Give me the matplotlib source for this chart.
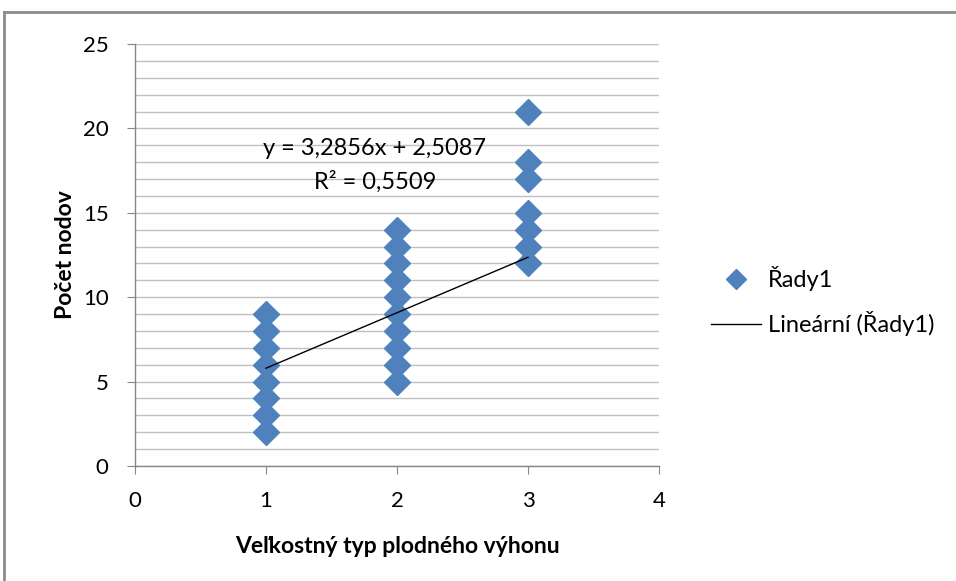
import matplotlib
matplotlib.use("Agg")
import matplotlib.pyplot as plt
from matplotlib.lines import Line2D
import numpy as np

plt.rcParams['font.family'] = ['Lato', 'DejaVu Sans']

# data
x_type1 = [1, 1, 1, 1, 1, 1, 1, 1]
y_type1 = [2, 3, 4, 5, 6, 7, 8, 9]
x_type2 = [2, 2, 2, 2, 2, 2, 2, 2, 2, 2]
y_type2 = [5, 6, 7, 8, 9, 10, 11, 12, 13, 14]
x_type3 = [3, 3, 3, 3, 3, 3, 3]
y_type3 = [12, 13, 14, 15, 17, 18, 21]
slope = 3.2856
intercept = 2.5087
r2 = 0.5509
x_ticks = [0, 1, 2, 3, 4]
y_ticks = [0, 5, 10, 15, 20, 25]
series_name = "Řady1"
trend_name = "Lineární (Řady1)"
x_label = "Veľkostný typ plodného výhonu"
y_label = "Počet nodov"

xs = np.array(x_type1 + x_type2 + x_type3, dtype=float)
ys = np.array(y_type1 + y_type2 + y_type3, dtype=float)

fig = plt.figure(figsize=(9.56, 5.81), dpi=100)
ax = fig.add_axes([135/956, 1-466/581, (659-135)/956, (466-44)/581])

blue = "#4F81BD"
grid_c = "#BFBFBF"
spine_c = "#868686"

ax.set_xlim(0, 4)
ax.set_ylim(0, 25)
ax.set_xticks(x_ticks)
ax.set_yticks(y_ticks)
ax.set_yticks(np.arange(0, 26, 1), minor=True)
ax.grid(True, which='both', axis='y', color=grid_c, lw=1)
ax.tick_params(axis='y', which='minor', length=0)
ax.tick_params(axis='both', which='major', length=6, color=spine_c, labelsize=16)
ax.tick_params(axis='x', which='major', pad=12)
ax.tick_params(axis='y', which='major', pad=13)
ax.set_axisbelow(True)
for s in ['top', 'right']:
    ax.spines[s].set_visible(False)
for s in ['left', 'bottom']:
    ax.spines[s].set_color(spine_c)
    ax.spines[s].set_linewidth(1)

sc = ax.plot(xs, ys, linestyle='none', marker='D', ms=13.5, color=blue, mec=blue, label=series_name, zorder=3)[0]
xt = np.array([x_type1[0], x_type3[0]], dtype=float)
tl = ax.plot(xt, slope*xt + intercept, color='black', lw=1, label=trend_name, zorder=4)[0]

fmt = lambda v: f"{v:.4f}".replace('.', ',')
ax.text(1.83, 18.8, f"y = {fmt(slope)}x + {fmt(intercept)}", ha='center', va='center', fontsize=17, zorder=5)
ax.text(1.83, 16.85, f"R² = {fmt(r2)}", ha='center', va='center', fontsize=17, zorder=5)

ax.set_xlabel(x_label, fontsize=16.5, fontweight='bold', labelpad=18)
ax.set_ylabel(y_label, fontsize=16.5, fontweight='bold', labelpad=5)

leg = fig.legend(handles=[sc, tl], loc='center left', bbox_to_anchor=(690/956, 1-301/581),
                 frameon=False, fontsize=17, handlelength=2.1, labelspacing=0.85,
                 markerscale=0.72, handletextpad=0.3)

# outer chart border (left and top)
fig.add_artist(Line2D([4/956, 4/956], [0, 1-12/581], color='#8C8C8C', lw=2, transform=fig.transFigure))
fig.add_artist(Line2D([4/956, 1], [1-12/581, 1-12/581], color='#8C8C8C', lw=2, transform=fig.transFigure))

fig.savefig("out.png", dpi=100)
